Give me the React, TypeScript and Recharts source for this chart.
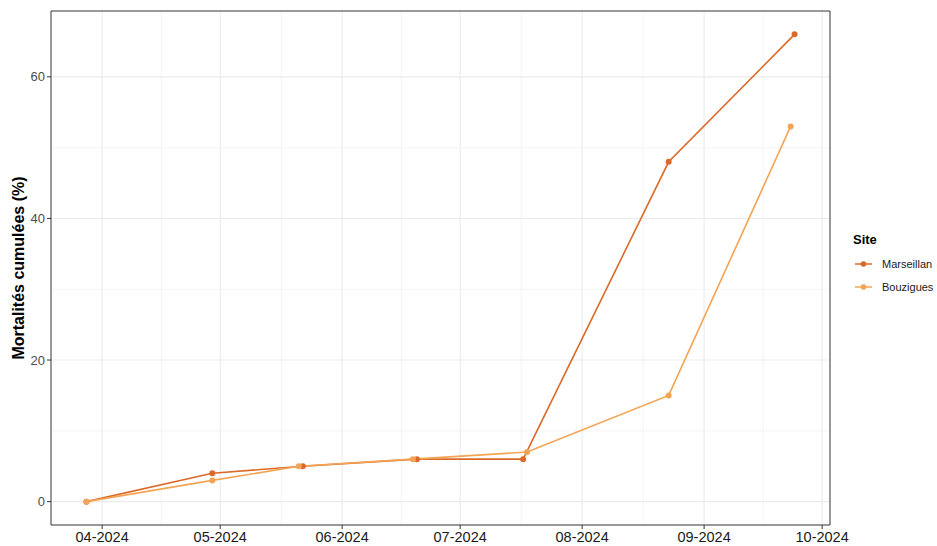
import React from "react";
import {
    LineChart, Line, XAxis, YAxis, CartesianGrid, ReferenceArea
} from 'recharts';

const marseillanDates = ['2024-03-28', '2024-04-29', '2024-05-22', '2024-06-20', '2024-07-17', '2024-08-23', '2024-09-24'];
const marseillanValues = [0, 4, 5, 6, 6, 48, 66];
const bouziguesDates = ['2024-03-28', '2024-04-29', '2024-05-21', '2024-06-19', '2024-07-18', '2024-08-23', '2024-09-23'];
const bouziguesValues = [0, 3, 5, 6, 7, 15, 53];
const monthTicks = ['2024-04-01', '2024-05-01', '2024-06-01', '2024-07-01', '2024-08-01', '2024-09-01', '2024-10-01'];
const yTicks = [0, 20, 40, 60];
const yMinorTicks = [10, 30, 50];

const FONT = '"Liberation Sans", Arial, sans-serif';
const MARSEILLAN = '#DB6A2A';
const BOUZIGUES = '#F2A454';

const toTime = (d: string) => new Date(d + 'T00:00:00Z').getTime();

const marseillan = marseillanDates.map((d, i) => ({ date: toTime(d), value: marseillanValues[i] }));
const bouzigues = bouziguesDates.map((d, i) => ({ date: toTime(d), value: bouziguesValues[i] }));

const sites = [
    { name: 'Marseillan', color: MARSEILLAN },
    { name: 'Bouzigues', color: BOUZIGUES },
];

const allDates = [...marseillan, ...bouzigues].map(p => p.date);
const allValues = [...marseillanValues, ...bouziguesValues];
const xMin = Math.min(...allDates), xMax = Math.max(...allDates);
const xPad = (xMax - xMin) * 0.05;
const xDomain: [number, number] = [xMin - xPad, xMax + xPad];
const yMin = Math.min(...allValues), yMax = Math.max(...allValues);
const yPad = (yMax - yMin) * 0.05;
const yDomain: [number, number] = [yMin - yPad, yMax + yPad];

const xTicks = monthTicks.map(toTime);
const xMinorTicks = xTicks.slice(1).map((t, i) => (t + xTicks[i]) / 2);

const fmtMonth = (t: number) => {
    const d = new Date(t);
    return String(d.getUTCMonth() + 1).padStart(2, '0') + '-' + d.getUTCFullYear();
};

function SiteLegend() {
    return <div style={{ position: 'absolute', left: 853, top: 232, fontFamily: FONT, color: '#000' }}>
        <div style={{ fontWeight: 'bold', fontSize: 13, marginBottom: 5 }}>Site</div>
        {sites.map(s => (
            <div key={s.name} style={{ display: 'flex', alignItems: 'center', height: 23 }}>
                <svg width={22} height={10} style={{ marginRight: 7 }}>
                    <line x1={2} y1={5} x2={19} y2={5} stroke={s.color} strokeWidth={1.5} />
                    <circle cx={10.5} cy={5} r={2.8} fill={s.color} />
                </svg>
                <span style={{ fontSize: 11, color: '#1a1a1a' }}>{s.name}</span>
            </div>
        ))}
    </div>;
}

export default function App() {
    return <div style={{ position: 'absolute', left: 0, top: 0, width: 937, height: 546, background: '#fff' }}>
        <LineChart width={937} height={546} margin={{ top: 11, right: 107, left: 0, bottom: 0 }}>
            <CartesianGrid horizontalValues={yMinorTicks} verticalValues={xMinorTicks} stroke="#F1F1F1" strokeWidth={0.8} />
            <CartesianGrid horizontalValues={yTicks} verticalValues={xTicks} stroke="#EBEBEB" strokeWidth={1.1} />
            <XAxis
                dataKey="date" type="number" domain={xDomain} ticks={xTicks} allowDataOverflow
                tickFormatter={fmtMonth} height={21} tickSize={4} tickMargin={3}
                axisLine={false} tickLine={{ stroke: '#333' }}
                tick={{ fill: '#1a1a1a', fontSize: 14.5, fontFamily: FONT }}
            />
            <YAxis
                type="number" domain={yDomain} ticks={yTicks} allowDataOverflow width={51}
                tickSize={4} tickMargin={2} axisLine={false} tickLine={{ stroke: '#333' }}
                tick={{ fill: '#4D4D4D', fontSize: 13, fontFamily: FONT }}
                label={{
                    value: 'Mortalités cumulées (%)', angle: -90, position: 'insideLeft', offset: 18,
                    style: { textAnchor: 'middle', fontWeight: 'bold', fontSize: 16, fontFamily: FONT, fill: '#000' }
                }}
            />
            <Line data={marseillan} dataKey="value" name="Marseillan" stroke={MARSEILLAN} strokeWidth={1.6}
                dot={{ r: 3, fill: MARSEILLAN, stroke: MARSEILLAN, strokeWidth: 0 }} activeDot={false}
                isAnimationActive={false} />
            <Line data={bouzigues} dataKey="value" name="Bouzigues" stroke={BOUZIGUES} strokeWidth={1.6}
                dot={{ r: 3, fill: BOUZIGUES, stroke: BOUZIGUES, strokeWidth: 0 }} activeDot={false}
                isAnimationActive={false} />
            <ReferenceArea x1={xDomain[0]} x2={xDomain[1]} y1={yDomain[0]} y2={yDomain[1]}
                fill="none" stroke="#333" strokeWidth={1} ifOverflow="visible" />
        </LineChart>
        <SiteLegend />
    </div>;
}
